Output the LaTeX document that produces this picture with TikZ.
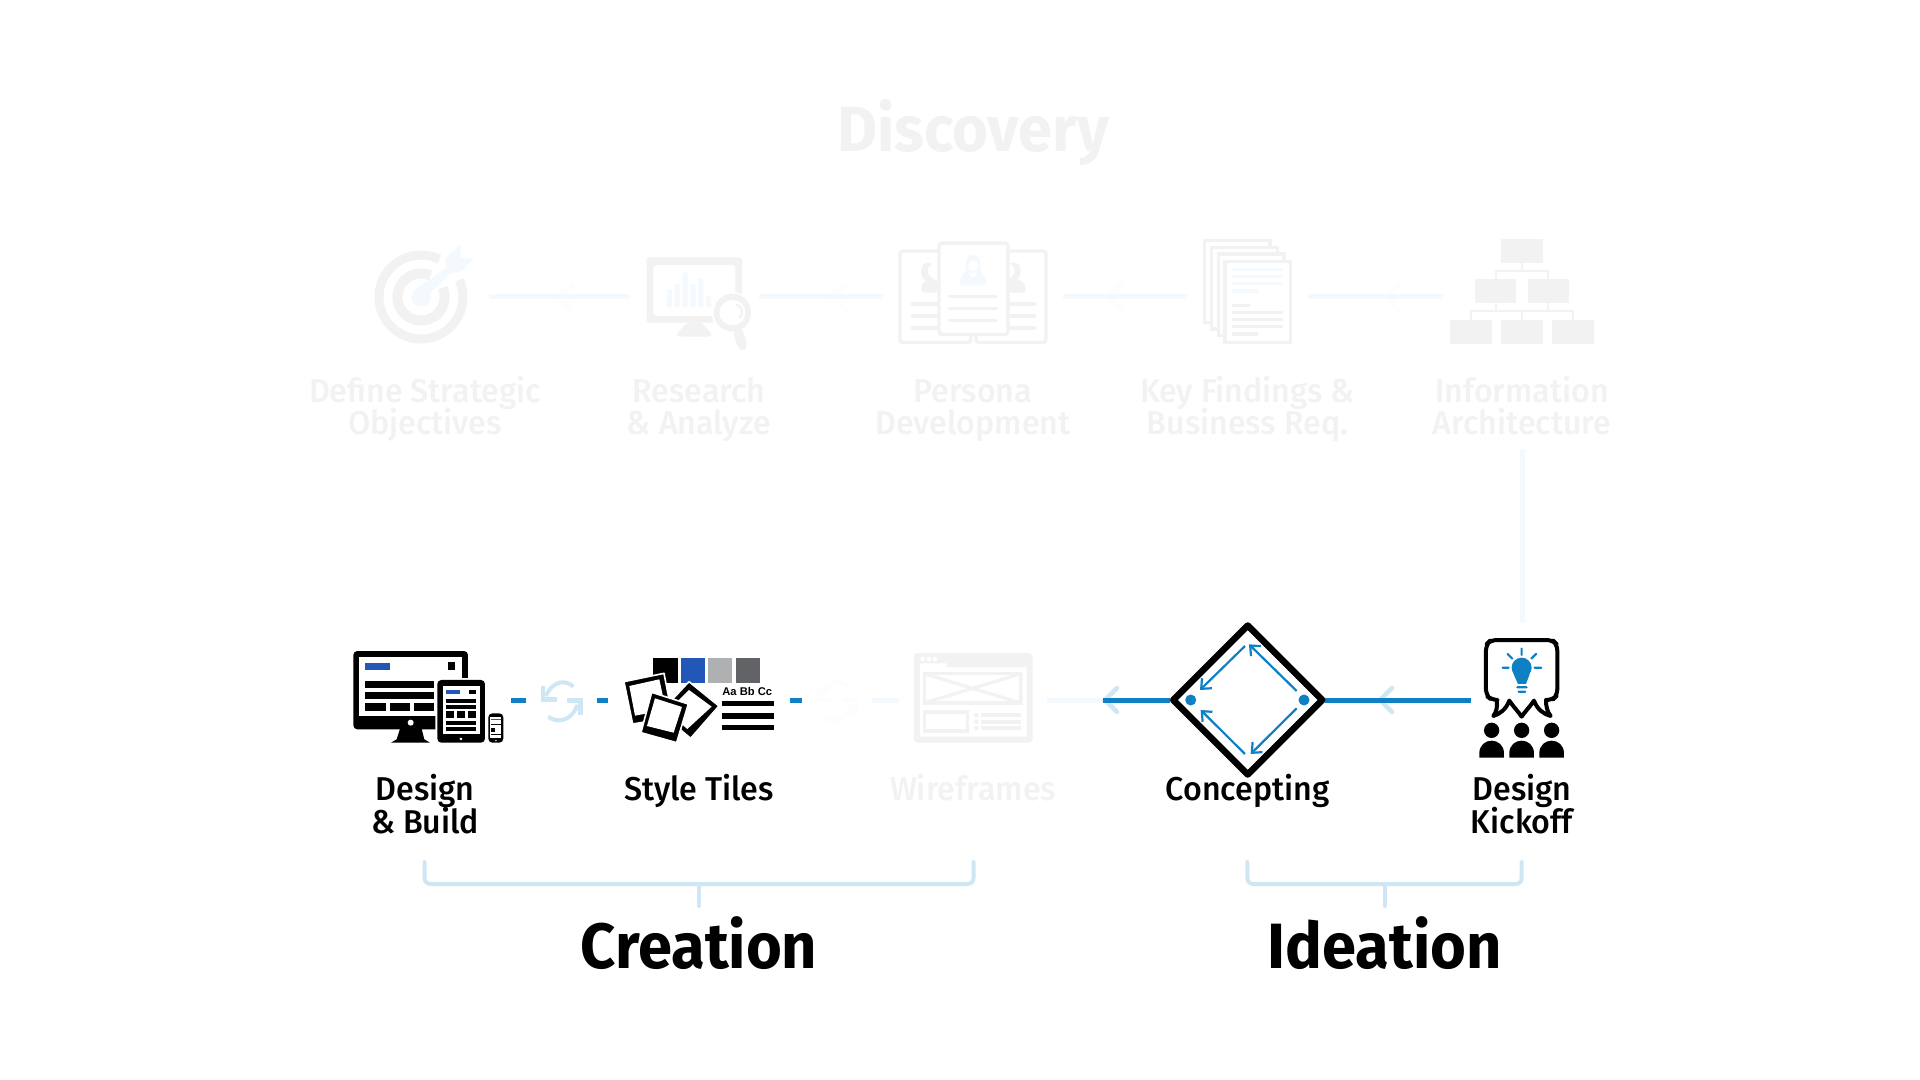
\documentclass[tikz,border=0pt]{standalone}
\usepackage{fontspec}
\usetikzlibrary{arrows.meta}
\newfontfamily\labf{Fira Sans}[UprightFont=* Medium,FakeStretch=.975]
\newfontfamily\titf{Fira Sans}[UprightFont=* Bold,FakeStretch=.96]
\newfontfamily\smallf{Liberation Sans}[UprightFont=* Bold]
\normallineskiplimit=-20pt
\lineskiplimit=-20pt
\definecolor{fgray}{HTML}{F2F2F2}
\definecolor{fblue}{HTML}{F3F9FD}
\definecolor{ffaint}{HTML}{FCFDFE}
\definecolor{lblue}{HTML}{CFE6F5}
\definecolor{mblue}{HTML}{0F80C4}
\definecolor{rblue}{HTML}{2257B8}
\definecolor{sgray}{HTML}{AEB0B1}
\definecolor{dgray}{HTML}{626366}
\newcommand{\rbox}[5]{\fill[#1] (#2,#3) rectangle (#4,#5);}
\tikzset{
  z1/.style={shift={(300,200)},xscale=.4337,yscale=.3333},
  z2/.style={shift={(940,200)},xscale=.4337,yscale=.3333},
  z3/.style={shift={(340,630)},scale=.3333},
  z4/.style={shift={(780,630)},scale=.3333},
  z5/.style={shift={(1100,610)},scale=.3333},
  ibox/.style 2 args={inner sep=0,minimum width=#1*.5pt,minimum height=#2*.5pt},
  lab/.style={font=\labf\fontsize{16.5}{16.25}\selectfont,align=center,inner sep=0,anchor=base},
  tit/.style={font=\titf\fontsize{32}{32}\selectfont,inner sep=0,anchor=base},
  flink/.style={fblue,line width=2.5pt},
  blink/.style={mblue,line width=2.5pt},
  brack/.style={lblue,line width=2pt,line cap=round,rounded corners=3pt},
  chev/.style={line width=2.2pt,line cap=round},
  ginner/.style={mblue,line width=1.1pt,-{Straight Barb[length=4pt,width=7pt,line width=1.1pt]}},
  pcard/.style={fill=white,draw=fgray,line width=1.7pt,rounded corners=1.5pt},
  kpage/.style={fill=white,draw=fgray,line width=1.6pt},
  polo/.style={fill=black,draw=white,line width=.8pt,line join=round},
}
\begin{document}
\begin{tikzpicture}[x=.5pt,y=-.5pt]
\useasboundingbox (0,0) rectangle (1920,1080);
\fill[white] (0,0) rectangle (1920,1080);

% ---------- invisible icon boxes used as connector ends
\node[ibox={136}{100}] (target) at (421,297) {};
\node[ibox={129.4}{110}] (research) at (694.3,297) {};
\node[ibox={180}{110}] (persona) at (973,297) {};
\node[ibox={120}{110}] (findings) at (1247.5,297) {};
\node[ibox={158}{110}] (hier) at (1522,297) {};
\node[ibox={171}{110}] (build) at (425,700) {};
\node[ibox={70}{70}] (synca) at (561.7,700) {};
\node[ibox={180.6}{110}] (tiles) at (699,700) {};
\node[ibox={70}{70}] (syncb) at (837,700) {};
\node[ibox={148}{110}] (wire) at (973,700) {};
\node[ibox={154}{154}] (conc) at (1247.7,700) {};
\node[ibox={100.6}{154}] (kick) at (1522,700) {};
\coordinate (archtail) at (1522,449);
\coordinate (bluestart) at (1103,700);

% ---------- faint chevrons on the upper connectors
\foreach \cx in {558,831,1107,1385}{
  \draw[ffaint,chev] (\cx+14,285) -- (\cx,297) -- (\cx+14,309);
}

% ---------- connectors
\draw[flink] (target.east) -- (research.west);
\draw[flink] (research.east) -- (persona.west);
\draw[flink] (persona.east) -- (findings.west);
\draw[flink] (findings.east) -- (hier.west);
\draw[flink] (archtail) -- (kick.north);
\draw[flink] (syncb.east) -- (wire.west);
\draw[flink] (wire.east) -- (conc.west);
\draw[lblue,chev] (1117,688) -- (1105,700) -- (1117,712);
\draw[lblue,chev] (1392,688) -- (1380,700) -- (1392,712);
\draw[blink] (conc.west) -- (bluestart);
\draw[blink] (kick.west) -- (conc.east);
\draw[blink] (tiles.east) -- (syncb.west);
\draw[blink] (synca.east) -- (tiles.west);
\draw[blink] (synca.west) -- (build.east);

% ---------- target icon
\draw[fgray,line width=4.5pt] (421,297) ++(-64:42) arc[start angle=-64,end angle=-384,radius=42];
\draw[fgray,line width=5pt] (421,297) ++(-66:23.6) arc[start angle=-66,end angle=-383,radius=23.6];
\fill[fblue] (421,297) circle[radius=9.5];
\begin{scope}[z1]
  \fill[fblue] (270,265) -- (335,205) -- (335,175) -- (370,133) -- (370,175) -- (402,175) -- (372,213) -- (345,222) -- (300,280) -- cycle;
\end{scope}

% ---------- research icon
\begin{scope}[z1]
  \fill[fgray,rounded corners=1.5pt,even odd rule] (799,172) rectangle (1020,368) (815,195) rectangle (1004,348);
  \fill[fgray,rounded corners=1.5pt] (893,368) -- (868,402) -- (872,410) -- (945,410) -- (950,402) -- (925,368) -- cycle;
  \foreach \bx/\bt in {852/268,870/252,888/217,906/252,924/235,942/288}{
    \fill[fblue,rounded corners=1pt] (\bx-6,\bt) rectangle (\bx+6,322);
  }
  \fill[white] (997,338) ellipse[x radius=48,y radius=62];
  \fill[fgray] (997,338) ellipse[x radius=43,y radius=57];
  \fill[white] (997,338) ellipse[x radius=30,y radius=38];
  \fill[fgray,rounded corners=2pt] (998,392) -- (1020,385) -- (1032,442) -- (1020,454) -- (1010,445) -- cycle;
  \draw[fgray,line width=1.1pt,line cap=round] (1007,314) .. controls (1022,325) and (1022,340) .. (1014,352);
\end{scope}

% ---------- persona icon
\draw[pcard] (900,251) rectangle (971,342.5);
\draw[pcard] (976,251) rectangle (1046,342.5);
\begin{scope}[z1]
  \fill[fgray] (1448,215) ellipse[x radius=16,y radius=28];
  \fill[white] (1460,213) ellipse[x radius=12,y radius=20];
  \fill[fgray,rounded corners=2pt] (1432,278) -- (1432,255) -- (1445,238) -- (1470,238) -- (1470,278) -- cycle;
  \foreach \ly in {312,348,384}{
    \draw[fgray,line width=1.7pt,line cap=round] (1412,\ly) -- (1472,\ly);
  }
\end{scope}
\begin{scope}[z2]
  \fill[fgray] (170,215) ellipse[x radius=16,y radius=28];
  \fill[white] (160,213) ellipse[x radius=12,y radius=20];
  \fill[fgray,rounded corners=2pt] (198,278) -- (198,255) -- (183,238) -- (155,238) -- (155,278) -- cycle;
  \foreach \ly in {312,348,384}{
    \draw[fgray,line width=1.7pt,line cap=round] (158,\ly) -- (218,\ly);
  }
\end{scope}
\draw[pcard] (939,243.2) rectangle (1008,334.5);
\begin{scope}[z2]
  \fill[fblue] (76,165) .. controls (60,165) and (58,185) .. (60,205) .. controls (58,225) and (45,230) .. (45,250) -- (48,256) -- (104,256) -- (107,250) .. controls (107,230) and (94,225) .. (92,205) .. controls (94,185) and (92,165) .. (76,165) -- cycle;
  \fill[white] (76,198) ellipse[x radius=12,y radius=16];
  \fill[white] (66,218) -- (76,235) -- (86,218) -- cycle;
  \foreach \ly in {290,325,362}{
    \draw[fgray,line width=1.7pt,line cap=round] (22,\ly) -- (130,\ly);
  }
\end{scope}

% ---------- key findings icon
\begin{scope}[z2]
  \draw[kpage] (609,121) rectangle (761,367);
  \draw[kpage] (626,142) rectangle (778,387);
  \draw[kpage] (642,162) rectangle (793,407);
  \draw[kpage] (657,184) rectangle (808,428);
  \foreach \ly in {208,230,251}{\rbox{fblue}{673}{\ly-5}{791}{\ly+5}}
  \rbox{fblue}{673}{268}{733}{278}
  \rbox{fgray}{673}{311}{714}{321}
  \foreach \ly in {337,358,380}{\rbox{fgray}{673}{\ly-5}{791}{\ly+5}}
  \rbox{fgray}{673}{397}{733}{407}
\end{scope}

% ---------- hierarchy icon
\begin{scope}[z2]
  \rbox{fgray}{1294}{117}{1390}{188}
  \rbox{fgray}{1234}{238}{1329}{308}
  \rbox{fgray}{1355}{238}{1450}{308}
  \rbox{fgray}{1177}{361}{1273}{432}
  \rbox{fgray}{1294}{361}{1390}{432}
  \rbox{fgray}{1411}{361}{1507}{432}
  \draw[fgray,line width=1pt] (1342,188) -- (1342,212) (1282,238) -- (1282,212) -- (1402,212) -- (1402,238)
    (1282,308) -- (1282,333) (1402,308) -- (1402,333) (1225,361) -- (1225,333) -- (1460,333) -- (1460,361) (1342,333) -- (1342,361);
\end{scope}

% ---------- design & build icon
\begin{scope}[z3]
  \fill[black,rounded corners=2pt] (40,63) rectangle (384,298);
  \rbox{white}{58}{82}{366}{258}
  \rbox{rblue}{76}{98}{150}{120}
  \rbox{black}{324}{97}{346}{120}
  \rbox{black}{75}{152}{283}{174}
  \rbox{black}{75}{186}{283}{208}
  \rbox{black}{76}{218}{137}{242}
  \rbox{black}{150}{218}{210}{242}
  \rbox{black}{222}{218}{283}{242}
  \fill[white] (212,278) circle[radius=9];
  \fill[black] (180,296) -- (170,328) -- (153,338) -- (270,338) -- (253,328) -- (245,296) -- cycle;
  \fill[white,rounded corners=2pt] (286,144) rectangle (441,344);
  \fill[black,rounded corners=2pt] (292,150) rectangle (435,338);
  \rbox{white}{308}{168}{420}{312}
  \rbox{rblue}{318}{179}{360}{191}
  \rbox{black}{386}{179}{408}{191}
  \rbox{black}{318}{206}{409}{218}
  \rbox{black}{318}{224}{409}{236}
  \rbox{black}{318}{243}{343}{265}
  \rbox{black}{352}{243}{376}{265}
  \rbox{black}{383}{243}{409}{265}
  \rbox{black}{318}{273}{409}{285}
  \rbox{black}{318}{292}{409}{304}
  \fill[white] (363,327) circle[radius=4.5];
  \fill[black,rounded corners=2pt] (445,250) rectangle (490,338);
  \rbox{white}{451}{260}{484}{325}
  \rbox{rblue}{454}{267}{482}{271}
  \rbox{black}{454}{281}{482}{285}
  \rbox{black}{454}{295}{466}{305}
  \rbox{black}{454}{311}{482}{316}
  \fill[white] (468,332) circle[radius=2.5];
\end{scope}

% ---------- sync icons
\begin{scope}[z3]
  \foreach \ox/\syc in {0/lblue,825.9/ffaint}{
    \begin{scope}[xshift=\ox*.5pt]
      \draw[\syc,line width=2pt] (700,170) .. controls (680,150) and (640,148) .. (618,198);
      \draw[\syc,line width=2.2pt] (609,168) -- (609,208) -- (650,208);
      \draw[\syc,line width=2pt] (625,260) .. controls (650,280) and (695,275) .. (712,225);
      \draw[\syc,line width=2.2pt] (722,254) -- (722,212) -- (682,212);
    \end{scope}
  }
\end{scope}

% ---------- style tiles icon
\begin{scope}[z3]
  \rbox{black}{940}{85}{1013}{158}
  \rbox{rblue}{1023}{85}{1095}{158}
  \rbox{sgray}{1105}{85}{1177}{158}
  \rbox{dgray}{1187}{85}{1259}{158}
  \draw[polo] (852,155) -- (972,130) -- (998,262) -- (878,282) -- cycle;
  \fill[white] (868,168) -- (958,148) -- (978,240) -- (885,257) -- cycle;
  \draw[polo] (1047,155) -- (1137,228) -- (1052,325) -- (960,248) -- cycle;
  \fill[white] (1047,180) -- (1115,230) -- (1042,297) -- (982,245) -- cycle;
  \draw[polo] (935,187) -- (1045,222) -- (1010,338) -- (903,308) -- cycle;
  \fill[white] (945,205) -- (1026,231) -- (1001,308) -- (921,288) -- cycle;
  \rbox{black}{1147}{213}{1302}{229}
  \rbox{black}{1147}{250}{1302}{266}
  \rbox{black}{1147}{285}{1302}{301}
  \node[font=\smallf\fontsize{5.6}{6}\selectfont,inner sep=0,anchor=base] (aabb) at (1222,198) {Aa Bb Cc};
\end{scope}

% ---------- wireframe icon
\begin{scope}[z4]
  \fill[fgray,rounded corners=2pt] (401,69) rectangle (758,338);
  \fill[white] (420,112) -- (420,100) -- (500,100) -- (500,112) -- (740,112) -- (740,320) -- (420,320) -- cycle;
  \foreach \dx in {428,447,465}{\fill[white] (\dx,87) circle[radius=7];}
  \begin{scope}
    \clip (428,126) rectangle (728,224);
    \rbox{fgray}{428}{126}{728}{224}
    \rbox{white}{438}{136}{718}{214}
    \draw[fgray,line width=1.6pt] (433,131) -- (723,219) (433,219) -- (723,131);
  \end{scope}
  \rbox{fgray}{428}{240}{568}{308}
  \rbox{white}{438}{251}{558}{297}
  \foreach \ly in {256,275,294}{
    \fill[fgray] (589,\ly) circle[radius=7];
    \rbox{fgray}{602}{\ly-6}{724}{\ly+6}
  }
\end{scope}

% ---------- concepting diamond
\draw[black,line width=3.25pt,line join=round,fill=white] (1247.7,625.5) -- (1322.2,700) -- (1247.7,774.5) -- (1173.2,700) -- cycle;
\fill[mblue] (1190.7,700) circle[radius=5.5];
\fill[mblue] (1304,700) circle[radius=5.5];
\begin{scope}[z5]
  \coordinate (dr1) at (590,243); \coordinate (dt1) at (447,103);
  \coordinate (dt2) at (435,108); \coordinate (dl1) at (300,240);
  \coordinate (dr2) at (590,295); \coordinate (db1) at (452,432);
  \coordinate (db2) at (435,432); \coordinate (dl2) at (302,300);
\end{scope}
\draw[ginner] (dr1) -- (dt1);
\draw[ginner] (dt2) -- (dl1);
\draw[ginner] (dr2) -- (db1);
\draw[ginner] (db2) -- (dl2);

% ---------- kickoff icon
\begin{scope}[z5]
  \draw[black,line width=2pt,line join=round,rounded corners=3pt] (1190,270) -- (1175,270) -- (1158,256) -- (1158,104) -- (1172,90) -- (1358,90) -- (1372,104) -- (1372,256) -- (1358,270) -- (1338,270);
  \draw[black,line width=2pt,line join=round,line cap=round] (1190,270) .. controls (1193,290) and (1190,305) .. (1180,318) .. controls (1200,312) and (1218,298) .. (1228,272) .. controls (1240,290) and (1255,305) .. (1265,320) .. controls (1275,305) and (1290,290) .. (1302,272) .. controls (1312,298) and (1330,312) .. (1352,318) .. controls (1342,305) and (1338,290) .. (1338,270);
  \fill[mblue] (1265,173) circle[radius=30];
  \fill[mblue] (1240,190) -- (1254,222) -- (1278,222) -- (1290,190) -- cycle;
  \draw[mblue,line width=1.1pt,line cap=round] (1252,232) -- (1280,232) (1256,245) -- (1276,245)
    (1265,116) -- (1265,135) (1223,132) -- (1237,146) (1308,132) -- (1294,146) (1208,173) -- (1226,173) (1304,173) -- (1324,173);
  \foreach \hx in {1175,1265,1355}{
    \fill[black] (\hx,361) circle[radius=23];
    \fill[black] (\hx-37,443) -- (\hx-37,430) .. controls (\hx-37,405) and (\hx-18,392) .. (\hx,392) .. controls (\hx+18,392) and (\hx+37,405) .. (\hx+37,430) -- (\hx+37,443) -- cycle;
  }
\end{scope}

% ---------- brackets
\coordinate (cbl) at (424.5,862); \coordinate (cbr) at (973.5,862);
\coordinate (cbm) at (699,884); \coordinate (cbs) at (699,906);
\coordinate (ibl) at (1247.3,862); \coordinate (ibr) at (1521.7,862);
\coordinate (ibm) at (1384.7,884); \coordinate (ibs) at (1384.7,906);
\draw[brack] (cbl) |- (cbr |- cbm) -- (cbr);
\draw[brack] (cbm) -- (cbs);
\draw[brack] (ibl) |- (ibr |- ibm) -- (ibr);
\draw[brack] (ibm) -- (ibs);

% ---------- labels (the base of a two-line node is its last line)
\node[tit,text=fgray] (tdisc) at (973,151.7) {Discovery};
\node[lab,text=fgray] (l1) at (425,434.5) {Define Strategic\\Objectives};
\node[lab,text=fgray] (l2) at (699,434.5) {Research\\\& Analyze};
\node[lab,text=fgray] (l3) at (973,434.5) {Persona\\Development};
\node[lab,text=fgray] (l4) at (1247.5,434.5) {Key Findings \&\\Business Req.};
\node[lab,text=fgray] (l5) at (1522,434.5) {Information\\Architecture};
\node[lab] (l6) at (425,833.2) {Design\\\& Build};
\node[lab] (l7) at (699,800.7) {Style Tiles};
\node[lab,text=fgray] (l8) at (973,800.7) {Wireframes};
\node[lab] (l9) at (1247.7,800.7) {Concepting};
\node[lab] (l10) at (1522,833.2) {Design\\Kickoff};
\node[tit] (tcre) at (699,968) {Creation};
\node[tit] (tide) at (1384.7,968) {Ideation};
\end{tikzpicture}
\end{document}
